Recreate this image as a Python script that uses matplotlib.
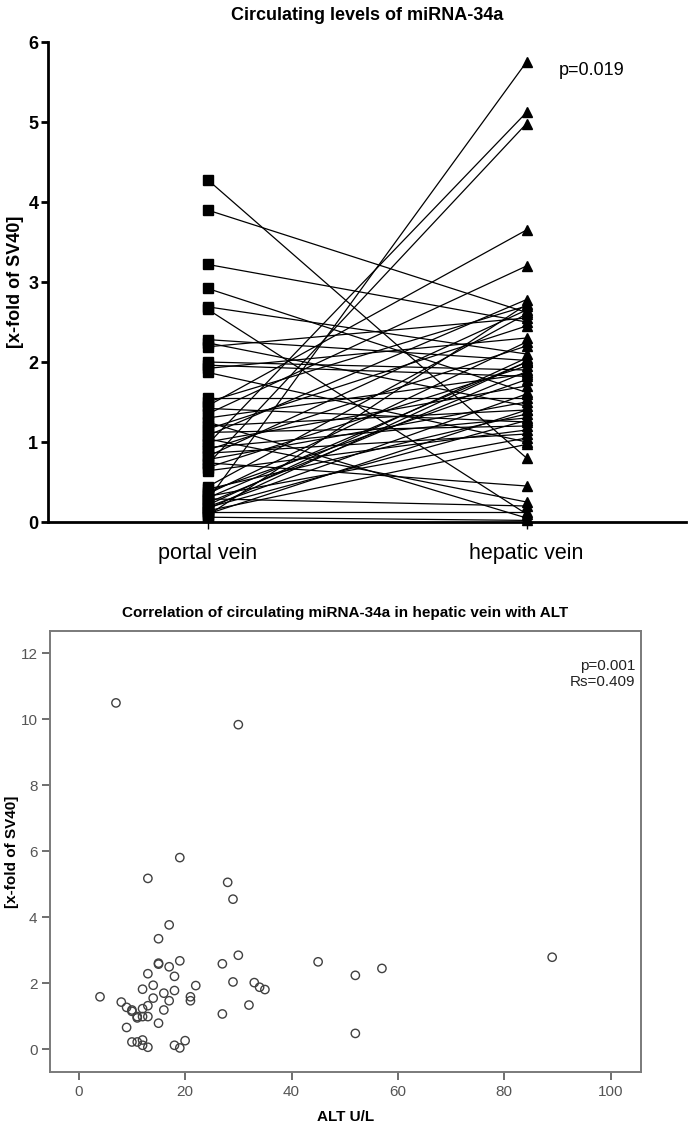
import matplotlib
matplotlib.use("Agg")
import matplotlib.pyplot as plt
from matplotlib import font_manager as fm

names = {f.name for f in fm.fontManager.ttflist}
narrow = "Liberation Sans Narrow" if "Liberation Sans Narrow" in names else "Liberation Sans"
plt.rcParams['font.family'] = ['Liberation Sans', 'DejaVu Sans']

# ---------------- data: top panel (paired values) ----------------
groups = ["portal vein", "hepatic vein"]
portal = [4.28, 3.90, 3.22, 2.92, 2.69, 2.66, 2.28, 2.24, 2.19, 2.00,
          1.96, 1.92, 1.87, 1.55, 1.50, 1.45, 1.42, 1.35, 1.30, 1.25,
          1.20, 1.16, 1.12, 1.08, 1.04, 1.00, 0.97, 0.93, 0.90, 0.86,
          0.82, 0.78, 0.74, 0.72, 0.68, 0.64, 0.44, 0.41, 0.38, 0.35,
          0.32, 0.29, 0.27, 0.24, 0.21, 0.19, 0.16, 0.14, 0.12, 0.10,
          0.08, 0.06, 0.18, 0.30]
hepatic = [0.80, 2.62, 2.50, 1.62, 2.10, 0.10, 2.02, 1.45, 2.55, 1.90,
           1.82, 2.30, 1.00, 1.55, 2.70, 3.65, 1.25, 3.20, 1.85, 0.05,
           1.40, 2.45, 1.20, 2.78, 0.25, 1.70, 5.12, 1.30, 2.20, 1.10,
           2.65, 1.50, 0.45, 4.98, 1.95, 1.15, 2.60, 1.35, 1.78, 2.25,
           1.05, 0.20, 5.75, 1.88, 2.05, 1.60, 2.00, 0.97, 0.12, 1.40,
           2.72, 0.02, 1.27, 2.00]
top_yticks = [0, 1, 2, 3, 4, 5, 6]
p_top = "p=0.019"

# ---------------- data: bottom panel (scatter) ----------------
alt = [7, 30, 19, 13, 28, 29, 17, 15, 30, 15, 15, 17, 19, 27, 13, 18, 22, 29,
       33, 34, 35, 14, 12, 16, 18, 21, 21, 17, 14, 4, 8, 9, 10, 10, 12, 13,
       11, 12, 13, 11, 16, 15, 9, 27, 32, 10, 11, 12, 12, 13, 18, 19, 20,
       45, 52, 57, 52, 89]
mir = [10.5, 9.84, 5.81, 5.18, 5.06, 4.55, 3.77, 3.35, 2.85, 2.61, 2.58, 2.50,
       2.68, 2.59, 2.29, 2.21, 1.93, 2.04, 2.02, 1.88, 1.81, 1.94, 1.82, 1.70,
       1.78, 1.59, 1.47, 1.47, 1.55, 1.59, 1.43, 1.27, 1.19, 1.15, 1.23, 1.32,
       0.99, 0.99, 0.99, 0.95, 1.19, 0.79, 0.66, 1.07, 1.34, 0.22, 0.22, 0.28,
       0.12, 0.06, 0.12, 0.04, 0.26, 2.65, 2.24, 2.45, 0.48, 2.79]
bot_xticks = [0, 20, 40, 60, 80, 100]
bot_yticks = [0, 2, 4, 6, 8, 10, 12]
p_bot = "p=0.001"
rs_bot = "Rs=0.409"

W, H = 688, 1122
fig = plt.figure(figsize=(W / 100, H / 100), dpi=100)

def box(l, t, r, b):
    return [l / W, 1 - b / H, (r - l) / W, (b - t) / H]

# ---------------- top panel ----------------
ax1 = fig.add_axes(box(48, 42, 686, 522))
for pv, hv in zip(portal, hepatic):
    ax1.plot([1, 2], [pv, hv], color="black", lw=0.9, zorder=2)
ax1.plot([1] * len(portal), portal, ls="none", marker="s", ms=7.5,
         color="black", zorder=3, clip_on=False)
ax1.plot([2] * len(hepatic), hepatic, ls="none", marker="^", ms=7.5,
         color="black", zorder=3, clip_on=False)
ax1.set_xlim(0.5, 2.5)
ax1.set_ylim(0, 6)
ax1.set_xticks([1, 2])
ax1.set_xticklabels(groups, fontsize=15.5)
ax1.set_yticks(top_yticks)
ax1.set_yticklabels([str(v) for v in top_yticks], fontsize=13, fontweight="bold")
for s in ["top", "right"]:
    ax1.spines[s].set_visible(False)
for s in ["left", "bottom"]:
    ax1.spines[s].set_linewidth(2)
ax1.tick_params(axis="y", direction="out", length=5, width=2, pad=2)
ax1.tick_params(axis="x", direction="out", length=5, width=1, pad=10)
ax1.set_ylabel("[x-fold of SV40]", fontsize=13, fontweight="bold")
ax1.yaxis.set_label_coords(-0.038, 0.5)
ax1.set_title("Circulating levels of miRNA-34a", fontsize=13, fontweight="bold", pad=16)
ax1.text(2.1, 5.64, p_top, fontsize=13, va="center", ha="left")

# ---------------- bottom panel ----------------
gray = "#7a7a7a"
ax2 = fig.add_axes(box(50, 631, 641, 1072))
ax2.scatter(alt, mir, s=36, facecolors="none", edgecolors="#404040",
            linewidths=1.0, zorder=3)
ax2.set_xlim(-5.4, 105.7)
ax2.set_ylim(-0.69, 12.68)
ax2.set_xticks(bot_xticks)
ax2.set_yticks(bot_yticks)
ax2.set_xticklabels([str(v) for v in bot_xticks], fontsize=11,
                    family=[narrow, 'DejaVu Sans'], color="#555555")
ax2.set_yticklabels([str(v) for v in bot_yticks], fontsize=11,
                    family=[narrow, 'DejaVu Sans'], color="#555555")
for s in ax2.spines.values():
    s.set_color(gray)
    s.set_linewidth(1.4)
ax2.tick_params(axis="both", direction="out", length=6, width=1.2,
                color="#555555", pad=3)
ax2.set_xlabel("ALT U/L", fontsize=11, fontweight="bold",
               family=[narrow, 'DejaVu Sans'], labelpad=8)
ax2.set_ylabel("[x-fold of SV40]", fontsize=11, fontweight="bold",
               family=[narrow, 'DejaVu Sans'])
ax2.yaxis.set_label_coords(-0.052, 0.5)
ax2.set_title("Correlation of circulating miRNA-34a in hepatic vein with ALT",
              fontsize=11, fontweight="bold", family=[narrow, 'DejaVu Sans'], pad=10)
ax2.text(0.99, 0.92, p_bot, transform=ax2.transAxes, ha="right", va="center",
         fontsize=11, family=[narrow, 'DejaVu Sans'], color="#222222")
ax2.text(0.99, 0.884, rs_bot, transform=ax2.transAxes, ha="right", va="center",
         fontsize=11, family=[narrow, 'DejaVu Sans'], color="#222222")

fig.savefig("out.png", dpi=100)
